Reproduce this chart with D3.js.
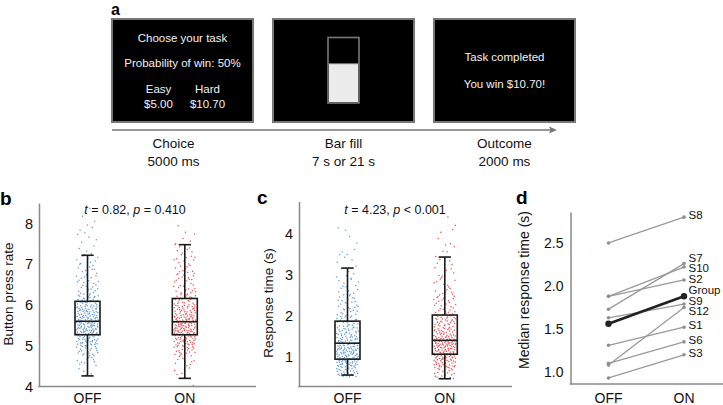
<!DOCTYPE html>
<html><head><meta charset="utf-8">
<script src="https://cdn.jsdelivr.net/npm/d3@7"></script>
<style>
html,body{margin:0;padding:0;background:#fff;}
svg{display:block;font-family:"Liberation Sans",Arial,Helvetica,sans-serif;}
</style></head>
<body><svg id="chart" width="723" height="405"></svg>
<script>
// ---------------- DATA ----------------
const categories = ["OFF", "ON"];

// Panel a (schematic)
const screenTitles = ["Choice", "Bar fill", "Outcome"];
const screenDurations = ["5000 ms", "7 s or 21 s", "2000 ms"];
const choiceLines = ["Choose your task", "Probability of win: 50%"];
const choiceOptions = ["Easy", "Hard"];
const choiceAmounts = ["$5.00", "$10.70"];
const outcomeLines = ["Task completed", "You win $10.70!"];
const barFillLevel = 0.6;

// Panel b: button press rate
const bTicks = [4, 5, 6, 7, 8];
const bOffBox = [4.26, 5.27, 5.60, 6.09, 7.22]; // lower whisker, Q1, median, Q3, upper whisker
const bOnBox  = [4.20, 5.27, 5.59, 6.16, 7.48];
const binWidth = 0.25;
const bOffBinStart = 4.25;
const bOffCounts = [4, 10, 21, 35, 49, 45, 38, 24, 15, 12, 10, 8, 4, 4, 4, 2, 1];
const bOnBinStart = 4.0;
const bOnCounts = [1, 4, 10, 21, 36, 50, 45, 34, 21, 15, 13, 11, 10, 8, 4, 2];
const bStat = ["0.82", "= 0.410"];

// Panel c: response time
const cTicks = [1, 2, 3, 4];
const cOffBox = [0.55, 0.94, 1.33, 1.87, 3.17];
const cOnBox  = [0.46, 1.06, 1.40, 2.02, 3.44];
const cOffBinStart = 0.5;
const cOffCounts = [28, 45, 45, 35, 28, 21, 15, 13, 10, 7, 4, 4, 3, 2, 2];
const cOnBinStart = 0.45;
const cOnCounts = [18, 35, 45, 56, 35, 27, 18, 14, 11, 8, 6, 5, 4, 3, 2, 2];
const cStat = ["4.23", "< 0.001"];

// Panel d: median response time per subject
const dTicks = [1.0, 1.5, 2.0, 2.5];
const subjects = ["S8", "S7", "S10", "S2", "S9", "S12", "S1", "S6", "S3"];
const subjOff  = [2.50, 1.73, 1.88, 1.88, 1.63, 1.08, 1.31, 1.10, 0.93];
const subjOn   = [2.80, 2.26, 2.22, 2.07, 1.79, 1.75, 1.52, 1.35, 1.20];
const groupOff = 1.56, groupOn = 1.88;

// ---------------- DRAW ----------------
const svg = d3.select("#chart");
svg.append("rect").attr("width", 723).attr("height", 405).attr("fill", "#fff");
const FONT = '"Liberation Sans",Arial,Helvetica,sans-serif';
const AX = "#8a8a8a";

function panelLabel(t, x, y, fs) {
  svg.append("text").attr("x", x).attr("y", y).attr("font-size", fs || 19)
    .attr("font-weight", "bold").attr("fill", "#000").text(t);
}

// ---- Panel a ----
(function () {
  const sx = d3.scaleBand().domain(screenTitles).range([112, 575]).paddingInner(0.124).paddingOuter(0);
  const top = 19, h = 103, w = sx.bandwidth();
  const g = svg.append("g");
  screenTitles.forEach((s) => {
    g.append("rect").attr("x", sx(s)).attr("y", top).attr("width", w).attr("height", h)
      .attr("fill", "#000").attr("stroke", "#777").attr("stroke-width", 2);
  });
  const txt = (x, y, t, fs, col) => g.append("text").attr("x", x).attr("y", y)
    .attr("text-anchor", "middle").attr("font-size", fs).attr("fill", col || "#f2f2f2").text(t);
  // screen 1
  const c1 = sx(screenTitles[0]) + w / 2;
  txt(c1, 42.3, choiceLines[0], 11.5);
  txt(c1, 66.8, choiceLines[1], 11.5);
  const optX = d3.scalePoint().domain(choiceOptions).range([c1 - 24, c1 + 25]);
  choiceOptions.forEach((o, i) => {
    txt(optX(o), 93.4, o, 11.5);
    txt(optX(o), 108.4, choiceAmounts[i], 11.5);
  });
  // screen 2: bar
  const c2 = sx(screenTitles[1]) + w / 2;
  const bx = c2 - 15.5, bw = 31, by = 37.5, bh = 65.5;
  const fillY = d3.scaleLinear().domain([0, 1]).range([by + bh, by]);
  g.append("rect").attr("x", bx).attr("y", by).attr("width", bw).attr("height", bh)
    .attr("fill", "#000").attr("stroke", "#777").attr("stroke-width", 1.6);
  g.append("rect").attr("x", bx + 1).attr("y", fillY(barFillLevel)).attr("width", bw - 2)
    .attr("height", fillY(0) - fillY(barFillLevel) - 1).attr("fill", "#ececec");
  g.append("line").attr("x1", bx).attr("x2", bx + bw).attr("y1", fillY(barFillLevel)).attr("y2", fillY(barFillLevel))
    .attr("stroke", "#777").attr("stroke-width", 1);
  // screen 3
  const c3 = sx(screenTitles[2]) + w / 2;
  txt(c3, 60.8, outcomeLines[0], 11.5);
  txt(c3, 87.6, outcomeLines[1], 11.5);
  // arrow
  g.append("line").attr("x1", 112).attr("x2", 553).attr("y1", 130).attr("y2", 130)
    .attr("stroke", "#777").attr("stroke-width", 1.5);
  g.append("path").attr("d", "M557,130 L549,126.5 L550.5,130 L549,133.5 Z").attr("fill", "#777");
  // labels under
  const dx = [-9, 0, 0];
  screenTitles.forEach((s, i) => {
    const cx = sx(s) + w / 2 + dx[i];
    txt(cx, 147.6, s, 13.5, "#111");
    txt(cx, 165.6, screenDurations[i], 13.5, "#111");
  });
  panelLabel("a", 111, 14.5, 16);
})();

// ---- helpers for box panels ----
function halton(i, b) { let f = 1, r = 0; while (i > 0) { f /= b; r += f * (i % b); i = Math.floor(i / b); } return r; }

function boxPanel(opt) {
  const g = svg.append("g");
  const y = d3.scaleLinear().domain(opt.domain).range([opt.bottom, opt.top]);
  const x = d3.scalePoint().domain(categories).range(opt.xr);
  // axes
  const ax = g.append("g").attr("transform", `translate(${opt.axisX},0)`)
    .call(d3.axisLeft(y).tickValues(opt.ticks).tickFormat(d3.format("d")).tickSize(0).tickPadding(6).tickSizeOuter(0));
  ax.select(".domain").attr("stroke", AX).attr("stroke-width", 1.5);
  ax.selectAll("text").attr("font-size", 14.5).attr("fill", "#111").attr("font-family", FONT);
  g.append("line").attr("x1", opt.axisX - 0.75).attr("x2", opt.axisRight).attr("y1", opt.bottom).attr("y2", opt.bottom)
    .attr("stroke", AX).attr("stroke-width", 1.5);
  // category labels
  categories.forEach(c => g.append("text").attr("x", x(c)).attr("y", 403).attr("text-anchor", "middle")
    .attr("font-size", 14).attr("fill", "#111").text(c));
  // scatter
  const jit = 11;
  opt.series.forEach((s, si) => {
    const pts = [];
    let gi = 0;
    s.counts.forEach((n, k) => {
      for (let j = 0; j < n; j++) {
        gi++;
        const v = s.start + (k + halton(gi + 7 * si, 2)) * binWidth;
        const xo = (halton(gi + 7 * si, 3) - 0.5) * 2 * jit;
        pts.push([x(categories[si]) + xo, y(v)]);
      }
    });
    g.append("g").selectAll("circle").data(pts).join("circle")
      .attr("cx", d => d[0]).attr("cy", d => d[1]).attr("r", 0.75)
      .attr("fill", s.color).attr("fill-opacity", 0.85);
  });
  // boxes
  const bw = 25, cw = 12.3;
  opt.boxes.forEach((b, i) => {
    const cx = x(categories[i]);
    const L = (x1, y1, x2, y2) => g.append("line").attr("x1", x1).attr("y1", y1).attr("x2", x2).attr("y2", y2)
      .attr("stroke", "#1a1a1a").attr("stroke-width", 1.6);
    L(cx, y(b[0]), cx, y(b[1]));
    L(cx, y(b[3]), cx, y(b[4]));
    L(cx - cw / 2, y(b[0]), cx + cw / 2, y(b[0]));
    L(cx - cw / 2, y(b[4]), cx + cw / 2, y(b[4]));
    g.append("rect").attr("x", cx - bw / 2).attr("y", y(b[3])).attr("width", bw).attr("height", y(b[1]) - y(b[3]))
      .attr("fill", "none").attr("stroke", "#1a1a1a").attr("stroke-width", 1.6);
    L(cx - bw / 2, y(b[2]), cx + bw / 2, y(b[2]));
  });
  // stat title
  const t = g.append("text").attr("x", opt.statX).attr("y", 213.5).attr("text-anchor", "middle")
    .attr("font-size", 12.5).attr("fill", "#111");
  t.append("tspan").attr("font-style", "italic").text("t");
  t.append("tspan").text(" = " + opt.stat[0] + ", ");
  t.append("tspan").attr("font-style", "italic").text("p");
  t.append("tspan").text(" " + opt.stat[1]);
  // y title
  g.append("text").attr("transform", `translate(${opt.titleX},${opt.titleY}) rotate(-90)`)
    .attr("text-anchor", "middle").attr("dominant-baseline", "central")
    .attr("font-size", 13.5).attr("fill", "#111").text(opt.ytitle);
}

boxPanel({
  domain: [4, 8.5], bottom: 386.5, top: 203.1, xr: [87.5, 184.8], axisX: 39, axisRight: 256,
  ticks: bTicks, boxes: [bOffBox, bOnBox],
  series: [{ start: bOffBinStart, counts: bOffCounts, color: "#4a8bc9" }, { start: bOnBinStart, counts: bOnCounts, color: "#e2383f" }],
  stat: bStat, statX: 135, ytitle: "Button press rate", titleX: 8, titleY: 294
});
boxPanel({
  domain: [0.27, 4.8], bottom: 386.5, top: 201.5, xr: [347.5, 444.8], axisX: 299, axisRight: 512,
  ticks: cTicks, boxes: [cOffBox, cOnBox],
  series: [{ start: cOffBinStart, counts: cOffCounts, color: "#4a8bc9" }, { start: cOnBinStart, counts: cOnCounts, color: "#e2383f" }],
  stat: cStat, statX: 395, ytitle: "Response time (s)", titleX: 268, titleY: 303
});
panelLabel("b", 0, 205);
panelLabel("c", 257, 204);

// ---- Panel d ----
(function () {
  const g = svg.append("g");
  const y = d3.scaleLinear().domain([0.86, 2.86]).range([384, 212]);
  const x = d3.scalePoint().domain(categories).range([608.5, 684]);
  const axisX = 570.5;
  const ax = g.append("g").attr("transform", `translate(${axisX},0)`)
    .call(d3.axisLeft(y).tickValues(dTicks).tickFormat(d3.format(".1f")).tickSize(0).tickPadding(7).tickSizeOuter(0));
  ax.select(".domain").attr("stroke", AX).attr("stroke-width", 1.5);
  ax.selectAll("text").attr("font-size", 14).attr("fill", "#111").attr("font-family", FONT);
  g.append("line").attr("x1", axisX - 0.75).attr("x2", 723).attr("y1", 384).attr("y2", 384)
    .attr("stroke", AX).attr("stroke-width", 1.5);
  categories.forEach(c => g.append("text").attr("x", x(c)).attr("y", 403).attr("text-anchor", "middle")
    .attr("font-size", 14).attr("fill", "#111").text(c));
  g.append("text").attr("transform", `translate(524,290) rotate(-90)`)
    .attr("text-anchor", "middle").attr("dominant-baseline", "central")
    .attr("font-size", 14).attr("fill", "#111").text("Median response time (s)");

  subjects.forEach((s, i) => {
    g.append("line").attr("x1", x("OFF")).attr("y1", y(subjOff[i])).attr("x2", x("ON")).attr("y2", y(subjOn[i]))
      .attr("stroke", "#9a9a9a").attr("stroke-width", 1.3);
    [[x("OFF"), y(subjOff[i])], [x("ON"), y(subjOn[i])]].forEach(p =>
      g.append("circle").attr("cx", p[0]).attr("cy", p[1]).attr("r", 1.8).attr("fill", "#8f8f8f"));
  });
  g.append("line").attr("x1", x("OFF")).attr("y1", y(groupOff)).attr("x2", x("ON")).attr("y2", y(groupOn))
    .attr("stroke", "#222").attr("stroke-width", 2.6);
  [[x("OFF"), y(groupOff)], [x("ON"), y(groupOn)]].forEach(p =>
    g.append("circle").attr("cx", p[0]).attr("cy", p[1]).attr("r", 3.2).attr("fill", "#222"));

  // labels with simple dodge
  const labs = subjects.map((s, i) => ({ t: s, y0: y(subjOn[i]) })).concat([{ t: "Group", y0: y(groupOn) }]);
  labs.forEach(l => l.y = l.y0 - 2);
  labs.sort((a, b) => a.y - b.y);
  const gap = 10.6;
  for (let it = 0; it < 200; it++) {
    for (let k = 0; k < labs.length - 1; k++) {
      const d = labs[k + 1].y - labs[k].y;
      if (d < gap) { const m = (gap - d) / 2; labs[k].y -= m; labs[k + 1].y += m; }
    }
  }
  labs.forEach(l => g.append("text").attr("x", x("ON") + 4.5).attr("y", l.y).attr("dominant-baseline", "central")
    .attr("font-size", 11.5).attr("fill", "#111").text(l.t));
  panelLabel("d", 516, 204);
})();
</script></body></html>
